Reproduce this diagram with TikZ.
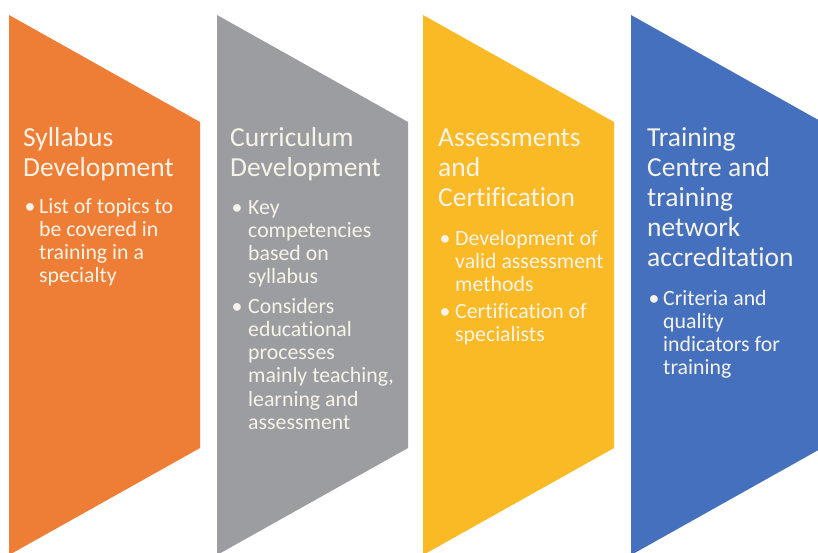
\documentclass[tikz,border=0pt]{standalone}
\usepackage{fontspec}
\setmainfont{Carlito}[RawFeature={-liga;-clig;-calt;-dlig}]
\definecolor{cOrange}{HTML}{EE7E35}
\definecolor{cGray}{HTML}{9C9DA0}
\definecolor{cYellow}{HTML}{F9BA25}
\definecolor{cBlue}{HTML}{4570BD}
\definecolor{txtc}{HTML}{F6F3E8}
\newcommand{\pb}[1]{\parbox[t]{200pt}{\raggedright #1}}
\begin{document}
\begin{tikzpicture}[x=1pt,y=-1pt,
  ttl/.style={anchor=base west, inner sep=0pt, text=txtc, font=\fontsize{27.5}{30.2}\selectfont},
  bul/.style={anchor=base west, inner sep=0pt, text=txtc, font=\fontsize{21.8}{23.3}\selectfont},
  bdot/.style={anchor=base, inner sep=0pt, text=txtc, font=\fontsize{21.8}{23.3}\selectfont},
  chev/.style={draw=none}]
\useasboundingbox (0,0) rectangle (818,552);
\clip (0,0) rectangle (818,552);
\fill[white] (0,0) rectangle (818,552);
% chevrons
\foreach \xx/\cc in {9/cOrange,217/cGray,423/cYellow,631/cBlue}{
  \fill[\cc] (\xx,15) -- (\xx+191,122) -- (\xx+191,448) -- (\xx,555) -- cycle;
}
% orange
\node[ttl] (t1) at (23,146) {\pb{Syllabus\\Development}};
\node[bdot] (d1a) at (30,213) {•};
\node[bul] (b1a) at (39,213) {\pb{List of topics to\\be covered in\\training in a\\specialty}};
% gray
\node[ttl] (t2) at (230,146) {\pb{Curriculum\\Development}};
\node[bdot] (d2a) at (237,214) {•};
\node[bul] (b2a) at (248,214) {\pb{Key\\competencies\\based on\\syllabus}};
\node[bdot] (d2b) at (237,313) {•};
\node[bul] (b2b) at (248,313) {\pb{Considers\\educational\\processes\\mainly teaching,\\learning and\\assessment}};
% yellow
\node[ttl] (t3) at (438,146) {\pb{Assessments\\and\\Certification}};
\node[bdot] (d3a) at (445,245) {•};
\node[bul] (b3a) at (455,245) {\pb{Development of\\valid assessment\\methods}};
\node[bdot] (d3b) at (445,318) {•};
\node[bul] (b3b) at (455,318) {\pb{Certification of\\specialists}};
% blue
\node[ttl] (t4) at (647,146) {\pb{Training\\Centre and\\training\\network\\accreditation}};
\node[bdot] (d4a) at (654,305) {•};
\node[bul] (b4a) at (663,305) {\pb{Criteria and\\quality\\indicators for\\training}};
\end{tikzpicture}
\end{document}
